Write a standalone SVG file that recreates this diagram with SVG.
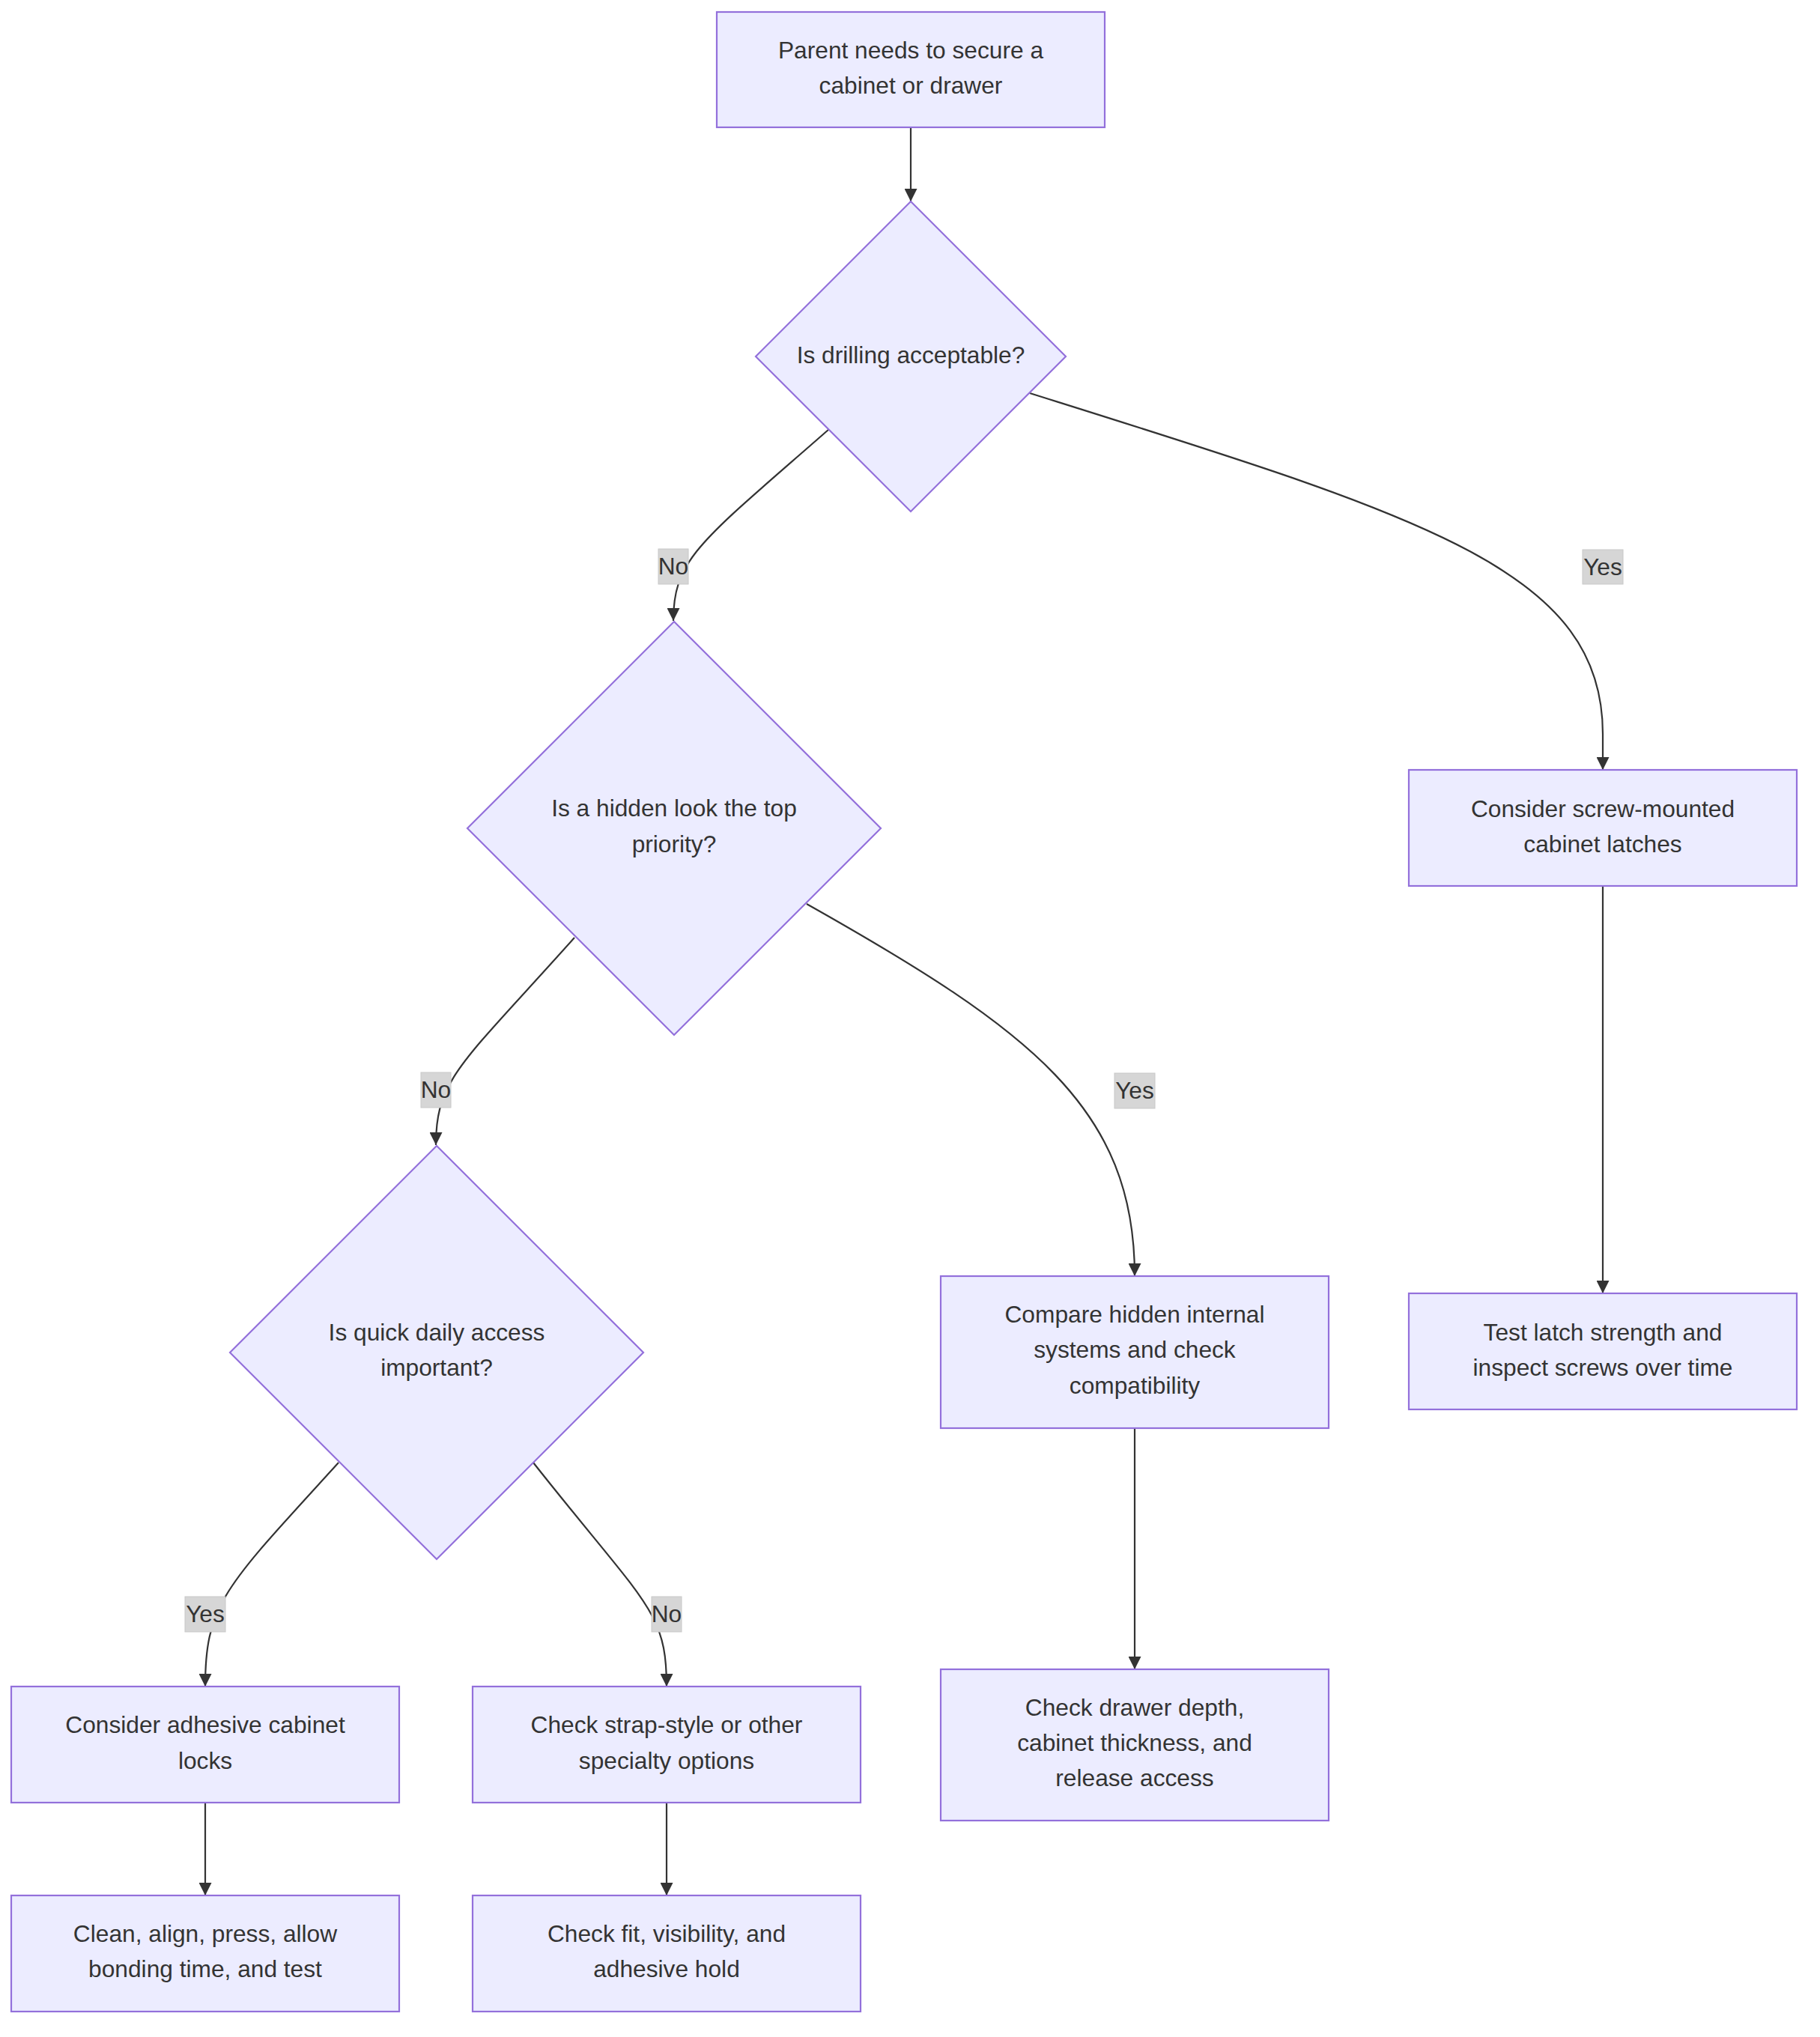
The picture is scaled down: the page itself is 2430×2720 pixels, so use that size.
<svg xmlns="http://www.w3.org/2000/svg" width="2430" height="2720" viewBox="0 0 2430 2720">
<defs>
<marker id="arrow" viewBox="0 0 10 10" refX="10" refY="5" markerUnits="userSpaceOnUse" markerWidth="17" markerHeight="17" orient="auto">
<path d="M0,0 L10,5 L0,10 z" fill="#333333"/>
</marker>
<style>
.node rect, .node polygon { fill: #ECECFF; stroke: #9370DB; stroke-width: 2.2; }
.node text { font-family: "Liberation Sans", Arial, sans-serif; font-size: 31.7px; fill: #333333; text-anchor: middle; }
.edge { fill: none; stroke: #333333; stroke-width: 2.2; marker-end: url(#arrow); }
.elabel rect { fill: #d6d6d6; stroke: #c8c8c8; stroke-width: 1; }
.elabel text { font-family: "Liberation Sans", Arial, sans-serif; font-size: 31.7px; fill: #333333; text-anchor: middle; }
</style>
</defs>
<rect x="0" y="0" width="2430" height="2720" fill="#ffffff"/>

<g id="connectors">
<path class="edge" d="M1216,170 L1216,269"/>
<path class="edge" d="M1107,573 C937,722 899,745 899,829"/>
<path class="edge" d="M1375,525 C1900,690 2140,760 2140,980 L2140,1028"/>
<path class="edge" d="M767,1252 C617,1420 582,1440 582,1529"/>
<path class="edge" d="M1077,1207 C1377,1376 1515,1480 1515,1704"/>
<path class="edge" d="M452,1953 C302,2118 274,2140 274,2252"/>
<path class="edge" d="M712,1953 C862,2143 890,2150 890,2252"/>
<path class="edge" d="M2140,1183 L2140,1727"/>
<path class="edge" d="M1515,1907 L1515,2229"/>
<path class="edge" d="M274,2407 L274,2531"/>
<path class="edge" d="M890,2407 L890,2531"/>
</g>

<g id="edge-labels">
<g class="elabel" id="label-d1-no"><rect x="879" y="733" width="40" height="47"/><text x="899" y="767">No</text></g>
<g class="elabel" id="label-d1-yes"><rect x="2113" y="734" width="54" height="46"/><text x="2140" y="768">Yes</text></g>
<g class="elabel" id="label-d2-no"><rect x="562" y="1432" width="40" height="47"/><text x="582" y="1466">No</text></g>
<g class="elabel" id="label-d2-yes"><rect x="1488" y="1433" width="54" height="47"/><text x="1515" y="1467">Yes</text></g>
<g class="elabel" id="label-d3-yes"><rect x="247" y="2132" width="54" height="47"/><text x="274" y="2166">Yes</text></g>
<g class="elabel" id="label-d3-no"><rect x="870" y="2132" width="40" height="47"/><text x="890" y="2166">No</text></g>
</g>

<g class="node" id="start">
<rect x="957" y="16" width="518" height="154"/>
<text x="1216" y="78">Parent needs to secure a</text>
<text x="1216" y="125">cabinet or drawer</text>
</g>

<g class="node" id="drilling">
<polygon points="1216,269 1423,476 1216,683 1009,476"/>
<text x="1216" y="485">Is drilling acceptable?</text>
</g>

<g class="node" id="hidden">
<polygon points="900,830 1176,1106 900,1382 624,1106"/>
<text x="900" y="1090">Is a hidden look the top</text>
<text x="900" y="1138">priority?</text>
</g>

<g class="node" id="screw">
<rect x="1881" y="1028" width="518" height="155"/>
<text x="2140" y="1091">Consider screw-mounted</text>
<text x="2140" y="1138">cabinet latches</text>
</g>

<g class="node" id="access">
<polygon points="583,1530 859,1806 583,2082 307,1806"/>
<text x="583" y="1790">Is quick daily access</text>
<text x="583" y="1837">important?</text>
</g>

<g class="node" id="testlatch">
<rect x="1881" y="1727" width="518" height="155"/>
<text x="2140" y="1790">Test latch strength and</text>
<text x="2140" y="1837">inspect screws over time</text>
</g>

<g class="node" id="compare">
<rect x="1256" y="1704" width="518" height="203"/>
<text x="1515" y="1766">Compare hidden internal</text>
<text x="1515" y="1813">systems and check</text>
<text x="1515" y="1861">compatibility</text>
</g>

<g class="node" id="drawer">
<rect x="1256" y="2229" width="518" height="202"/>
<text x="1515" y="2291">Check drawer depth,</text>
<text x="1515" y="2338">cabinet thickness, and</text>
<text x="1515" y="2385">release access</text>
</g>

<g class="node" id="adhesive">
<rect x="15" y="2252" width="518" height="155"/>
<text x="274" y="2314">Consider adhesive cabinet</text>
<text x="274" y="2362">locks</text>
</g>

<g class="node" id="strap">
<rect x="631" y="2252" width="518" height="155"/>
<text x="890" y="2314">Check strap-style or other</text>
<text x="890" y="2362">specialty options</text>
</g>

<g class="node" id="clean">
<rect x="15" y="2531" width="518" height="155"/>
<text x="274" y="2593">Clean, align, press, allow</text>
<text x="274" y="2640">bonding time, and test</text>
</g>

<g class="node" id="checkfit">
<rect x="631" y="2531" width="518" height="155"/>
<text x="890" y="2593">Check fit, visibility, and</text>
<text x="890" y="2640">adhesive hold</text>
</g>
</svg>
